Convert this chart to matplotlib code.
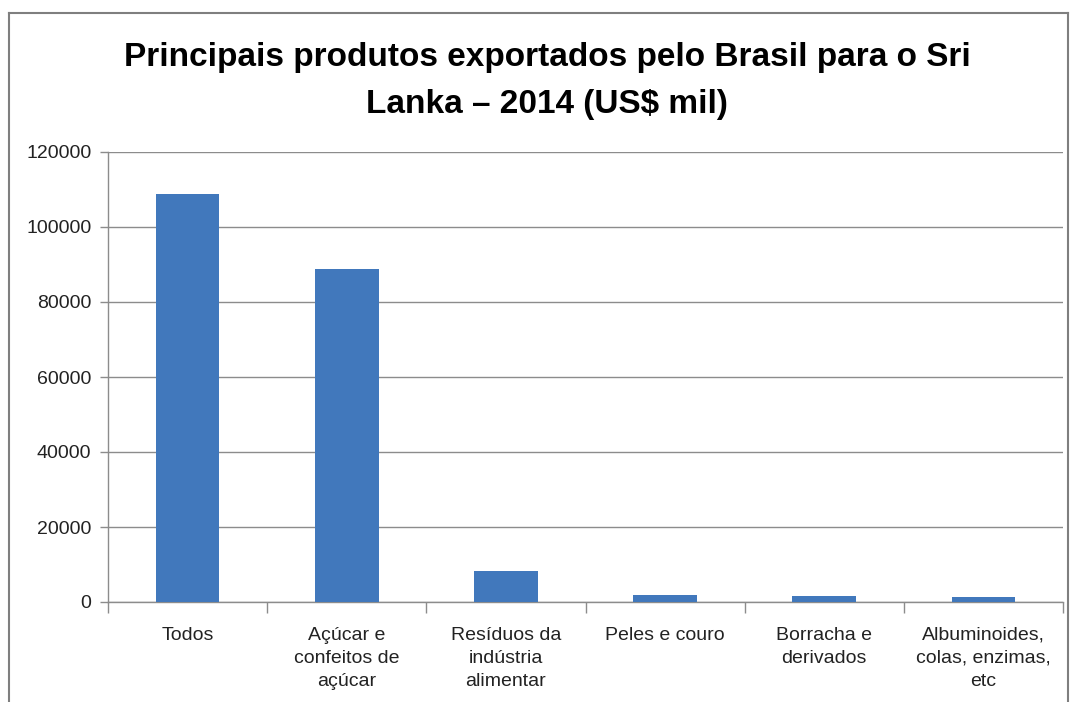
import matplotlib
matplotlib.use('Agg')
from matplotlib import pyplot as plt
from matplotlib.lines import Line2D
import numpy as np

categorias = ['Todos', 'Açúcar e\nconfeitos de\naçúcar', 'Resíduos da\nindústria\nalimentar',
              'Peles e couro', 'Borracha e\nderivados', 'Albuminoides,\ncolas, enzimas,\netc']
valores = [108800, 88800, 8300, 1900, 1600, 1300]
yticks = [0, 20000, 40000, 60000, 80000, 100000, 120000]

plt.rcParams['font.family'] = ['Liberation Sans', 'DejaVu Sans']

W, H = 1070, 702
fig = plt.figure(figsize=(W / 100, H / 100), dpi=100)
ax = fig.add_axes([108 / W, 1 - 602 / H, (1063 - 108) / W, (602 - 152) / H])

x = np.arange(len(categorias))
ax.bar(x, valores, width=0.4, color='#4178BC', zorder=3)

ax.set_xlim(-0.5, len(categorias) - 0.5)
ax.set_ylim(0, 120000)
ax.set_yticks(yticks)
ax.set_yticklabels([str(v) for v in yticks], fontsize=14, color='#222222')
ax.grid(axis='y', color='#8c8c8c', linewidth=1, zorder=0)

# category labels without ticks; boundary ticks via minor ticks
ax.set_xticks(x)
ax.set_xticklabels(categorias, fontsize=14, color='#222222', va='top', linespacing=1.45)
ax.tick_params(axis='x', length=0, pad=18)
ax.set_xticks(np.arange(-0.5, len(categorias)), minor=True)
ax.tick_params(axis='x', which='minor', length=8, color='#8c8c8c', width=1)
ax.tick_params(axis='y', length=6, color='#8c8c8c', width=1, pad=6)

for s in ['top', 'right']:
    ax.spines[s].set_visible(False)
for s in ['left', 'bottom']:
    ax.spines[s].set_color('#8c8c8c')
    ax.spines[s].set_linewidth(1)

fig.text(547 / W, 1 - 81 / H, 'Principais produtos exportados pelo Brasil para o Sri\nLanka – 2014 (US$ mil)',
         ha='center', va='center', fontsize=24, fontweight='bold', linespacing=1.65)

# outer chart frame (bottom is cropped in the reference)
frame_color = '#7f7f7f'
fig.add_artist(Line2D([9 / W, 9 / W], [0, 1 - 13 / H], transform=fig.transFigure, color=frame_color, lw=1.5))
fig.add_artist(Line2D([9 / W, 1068 / W], [1 - 13 / H, 1 - 13 / H], transform=fig.transFigure, color=frame_color, lw=1.5))
fig.add_artist(Line2D([1068 / W, 1068 / W], [0, 1 - 13 / H], transform=fig.transFigure, color=frame_color, lw=1.5))

fig.savefig('out.png', dpi=100)
